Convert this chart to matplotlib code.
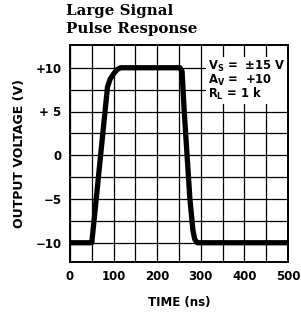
import matplotlib
matplotlib.use("Agg")
import matplotlib.pyplot as plt
import numpy as np

# Waveform (time ns, output V)
time_ns = [0, 50, 86, 92, 100, 108, 116, 252, 257, 262, 275, 282, 286, 292, 300, 500]
volts = [-10, -10, 7.8, 8.7, 9.3, 9.8, 10, 10, 9.6, 5, -5, -8.6, -9.6, -10, -10, -10]

xticks = [0, 100, 200, 300, 400, 500]
yticks = [10, 5, 0, -5, -10]
ytick_labels = ["+10", "+ 5", "0", "\u22125", "\u221210"]

fig = plt.figure(figsize=(3.01, 3.12), dpi=100)
ax = fig.add_axes([70/301, 1-262/312, (288-70)/301, (262-45)/312])

ax.plot(time_ns, volts, color="black", lw=3.8, solid_joinstyle="round",
        solid_capstyle="butt", zorder=3)

ax.set_xlim(0, 500)
ax.set_ylim(-12.2, 12.6)
ax.set_xticks(np.arange(0, 501, 50), minor=True)
ax.set_yticks(np.arange(-10, 10.1, 2.5), minor=True)
ax.set_xticks(xticks)
ax.set_xticklabels([str(x) for x in xticks])
ax.set_yticks(yticks)
ax.set_yticklabels(ytick_labels)
ax.grid(True, which="both", color="black", lw=0.9)
ax.tick_params(which="both", length=0, pad=6)
for lab in ax.get_xticklabels() + ax.get_yticklabels():
    lab.set_fontweight("bold")
    lab.set_fontsize(8.5)
for s in ax.spines.values():
    s.set_linewidth(1.4)
    s.set_zorder(5)

ax.set_xlabel("TIME (ns)", fontsize=8.5, fontweight="bold", labelpad=9)
ax.set_ylabel("OUTPUT VOLTAGE (V)", fontsize=9, fontweight="bold", labelpad=7)

fig.text(66/301, 1-4/312, "Large Signal\nPulse Response", family="DejaVu Serif",
         fontweight="bold", fontsize=10.8, ha="left", va="top", linespacing=1.38)

ax.text(208/301, 1-59/312,
        "V$_\\mathregular{S}$ =  \u00b115 V\nA$_\\mathregular{V}$ =  +10\nR$_\\mathregular{L}$ = 1 k",
        transform=fig.transFigure, ha="left", va="top", fontsize=8.3, fontweight="bold",
        linespacing=0.85, zorder=4,
        bbox=dict(facecolor="white", edgecolor="none", pad=1.5))

fig.savefig("out.png", dpi=100)
